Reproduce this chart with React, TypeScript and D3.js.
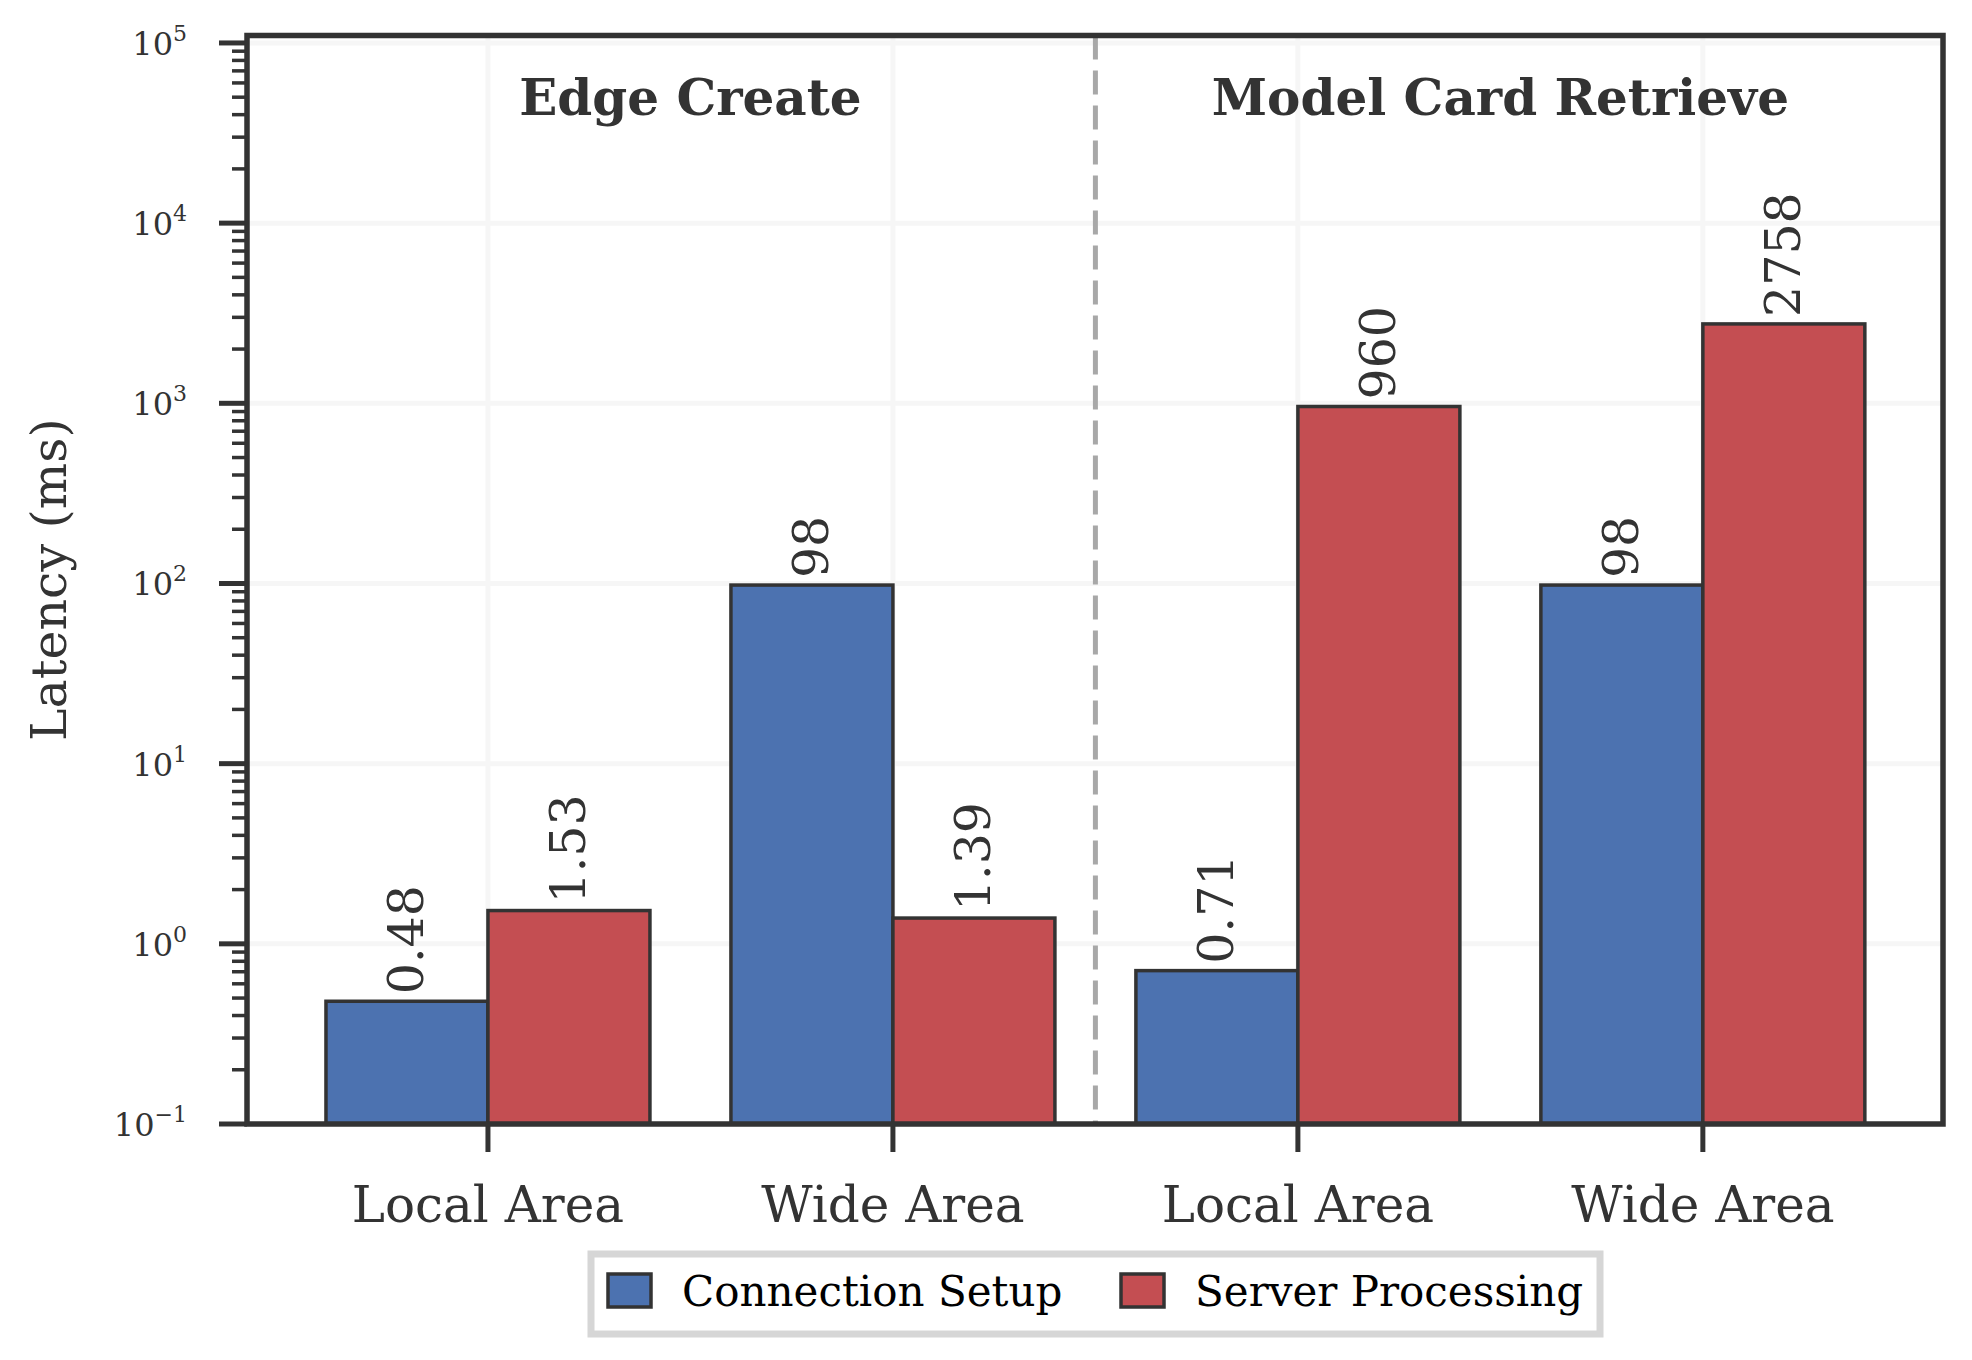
import { useMemo } from "react";
import * as d3 from "d3";

const groupTitles = ["Edge Create", "Model Card Retrieve"];
const categories = ["Local Area", "Wide Area", "Local Area", "Wide Area"];
const seriesNames = ["Connection Setup", "Server Processing"];
const connectionSetup = [0.48, 98, 0.71, 98];
const serverProcessing = [1.53, 1.39, 960, 2758];
const valueLabels = [
  ["0.48", "98", "0.71", "98"],
  ["1.53", "1.39", "960", "2758"],
];
const yTickExponents = [-1, 0, 1, 2, 3, 4, 5];

const W = 1972;
const H = 1360;
const FONT = "'DejaVu Serif', serif";
const INK = "#333333";
const colors = ["#4C72B0", "#C44E52"];

export default function App() {
  const mg = { left: 247, right: 1943, top: 35.5, bottom: 1124 };

  const x = d3.scaleLinear([-0.595, 3.593], [mg.left, mg.right]);
  const y = d3.scaleLog([0.1, 1.1e5], [mg.bottom, mg.top]);
  const barW = 0.4;

  const series = [connectionSetup, serverProcessing];

  const minorTicks = useMemo(() => {
    const out: number[] = [];
    yTickExponents.slice(0, -1).forEach((e) => {
      for (let m = 2; m <= 9; m++) out.push(m * Math.pow(10, e));
    });
    return out;
  }, []);

  return (
    <svg
      width={W}
      height={H}
      viewBox={`0 0 ${W} ${H}`}
      style={{ position: "absolute", left: 0, top: 0, background: "#fff" }}
      fontFamily={FONT}
    >
      <rect x={0} y={0} width={W} height={H} fill="#fff" />

      {/* grid */}
      {yTickExponents.map((e) => (
        <line
          key={`gy${e}`}
          x1={mg.left}
          x2={mg.right}
          y1={y(Math.pow(10, e))}
          y2={y(Math.pow(10, e))}
          stroke="#f6f6f6"
          strokeWidth={5}
        />
      ))}
      {categories.map((_, i) => (
        <line
          key={`gx${i}`}
          x1={x(i)}
          x2={x(i)}
          y1={mg.top}
          y2={mg.bottom}
          stroke="#f6f6f6"
          strokeWidth={5}
        />
      ))}

      {/* bars */}
      {series.map((vals, s) =>
        vals.map((v, i) => {
          const x0 = x(i - barW + s * barW);
          const x1 = x(i + s * barW);
          const top = y(v);
          return (
            <rect
              key={`b${s}-${i}`}
              x={x0}
              y={top}
              width={x1 - x0}
              height={mg.bottom - top}
              fill={colors[s]}
              stroke={INK}
              strokeWidth={3.5}
            />
          );
        })
      )}

      {/* value labels */}
      {series.map((vals, s) =>
        vals.map((v, i) => {
          const cx = x(i - barW / 2 + s * barW);
          return (
            <text
              key={`l${s}-${i}`}
              transform={`translate(${cx},${y(v) - 7}) rotate(-90)`}
              fontSize={49}
              fill={INK}
              dominantBaseline="central"
            >
              {valueLabels[s][i]}
            </text>
          );
        })
      )}

      {/* divider */}
      <line
        x1={x(1.5)}
        x2={x(1.5)}
        y1={mg.top}
        y2={mg.bottom}
        stroke="#a8a8a8"
        strokeWidth={5}
        strokeDasharray="24 11"
      />

      {/* group titles */}
      {groupTitles.map((t, g) => (
        <text
          key={t}
          x={x(g * 2 + 0.5)}
          y={115}
          textAnchor="middle"
          fontSize={50}
          fontWeight="bold"
          fill={INK}
        >
          {t}
        </text>
      ))}

      {/* y ticks */}
      {minorTicks.map((t) => (
        <line
          key={`mt${t}`}
          x1={mg.left - 15}
          x2={mg.left}
          y1={y(t)}
          y2={y(t)}
          stroke={INK}
          strokeWidth={3.5}
        />
      ))}
      {yTickExponents.map((e) => (
        <g key={`yt${e}`}>
          <line
            x1={mg.left - 28}
            x2={mg.left}
            y1={y(Math.pow(10, e))}
            y2={y(Math.pow(10, e))}
            stroke={INK}
            strokeWidth={5}
          />
          <text
            x={187}
            y={y(Math.pow(10, e)) + 12}
            textAnchor="end"
            fontSize={32}
            fill={INK}
          >
            10
            <tspan fontSize={22} dy={-14}>
              {e < 0 ? `\u2212${-e}` : `${e}`}
            </tspan>
          </text>
        </g>
      ))}

      {/* x ticks */}
      {categories.map((c, i) => (
        <g key={`xt${i}`}>
          <line
            x1={x(i)}
            x2={x(i)}
            y1={mg.bottom}
            y2={mg.bottom + 28}
            stroke={INK}
            strokeWidth={5}
          />
          <text
            x={x(i)}
            y={1222}
            textAnchor="middle"
            fontSize={50}
            fill={INK}
          >
            {c}
          </text>
        </g>
      ))}

      {/* frame */}
      <rect
        x={mg.left}
        y={mg.top}
        width={mg.right - mg.left}
        height={mg.bottom - mg.top}
        fill="none"
        stroke={INK}
        strokeWidth={5.5}
      />

      {/* y axis label */}
      <text
        transform={`translate(66,${(mg.top + mg.bottom) / 2}) rotate(-90)`}
        textAnchor="middle"
        fontSize={49}
        fill={INK}
      >
        Latency (ms)
      </text>

      {/* legend */}
      <g>
        <rect
          x={591}
          y={1254}
          width={1009}
          height={80}
          fill="#fff"
          stroke="#d6d6d6"
          strokeWidth={7}
        />
        {seriesNames.map((n, s) => {
          const lx = s === 0 ? 608 : 1121;
          return (
            <g key={n}>
              <rect
                x={lx}
                y={1274}
                width={43}
                height={33}
                fill={colors[s]}
                stroke={INK}
                strokeWidth={3.5}
              />
              <text
                x={lx + 74}
                y={1291}
                dominantBaseline="central"
                fontSize={42}
                fill="#000"
              >
                {n}
              </text>
            </g>
          );
        })}
      </g>
    </svg>
  );
}
